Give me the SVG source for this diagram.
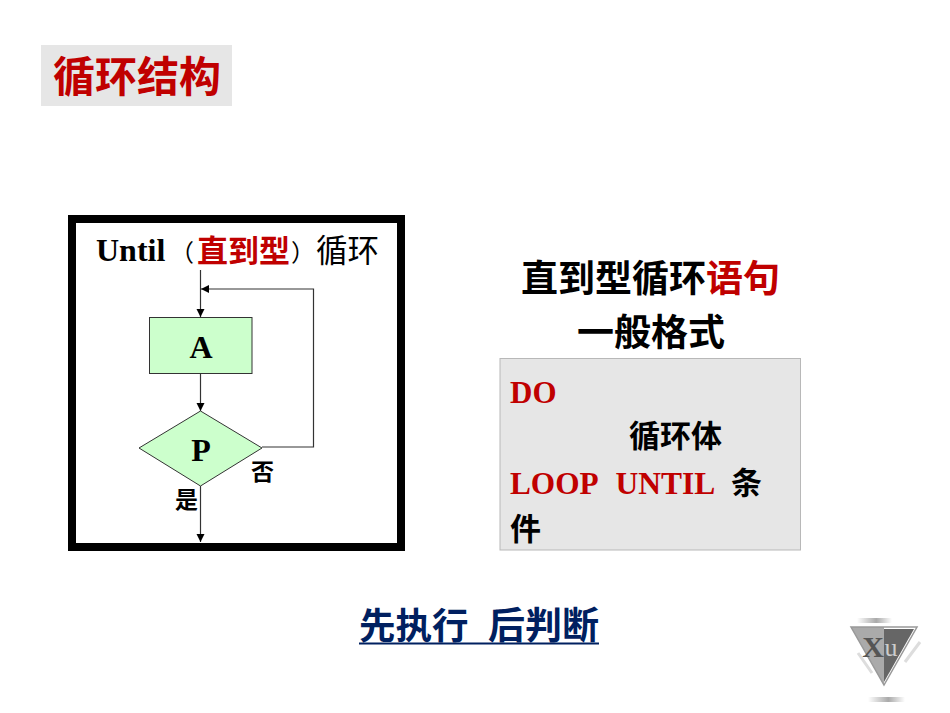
<svg xmlns="http://www.w3.org/2000/svg" width="950" height="713" viewBox="0 0 950 713">
<style>
.cjk{font-family:"Noto Sans CJK SC","Liberation Sans",sans-serif;font-weight:700}
.reg{font-family:"Noto Sans CJK SC","Liberation Sans",sans-serif;font-weight:400}
.ser{font-family:"Liberation Serif","Noto Sans CJK SC",serif;font-weight:700}
.red{fill:#c00000}
.blk{fill:#000}
.ln{fill:none;stroke:#333;stroke-width:1.2}
.nd{fill:#ccffcc;stroke:#333;stroke-width:1}
.streak{fill:none;stroke:#ddd;stroke-width:3}
</style>
<defs>
<marker id="ah" markerUnits="userSpaceOnUse" markerWidth="9" markerHeight="10" refX="8" refY="4" orient="auto"><path d="M0 0L8 4L0 8Z" fill="#000"/></marker>
<linearGradient id="gh" x1="0" x2="1" y1="0" y2="0"><stop offset="0" stop-color="#fff"/><stop offset=".55" stop-color="#aaa"/><stop offset="1" stop-color="#fff"/></linearGradient>
</defs>
<rect width="950" height="713" fill="#fff"/>
<g id="title"><rect x="41" y="45" width="191" height="61" fill="#e6e6e6"/><text x="53" y="92" class="cjk red" font-size="42">循环结构</text></g>
<rect id="frame" x="72" y="219" width="329" height="328" fill="#fff" stroke="#000" stroke-width="8"/>
<g id="heading"><text x="96" y="261" class="ser blk" font-size="32">Until</text>
<text x="170" y="261" class="reg blk" font-size="24">（</text>
<text x="197" y="262" class="cjk red" font-size="31">直到型</text>
<text x="291" y="261" class="reg blk" font-size="24">）</text>
<text x="316" y="262" class="reg blk" font-size="31.500">循环</text></g>
<g id="connectors">
<path class="ln" d="M200.500 270V317" marker-end="url(#ah)"/>
<path class="ln" d="M200.500 373V411" marker-end="url(#ah)"/>
<path class="ln" d="M200.500 486V542" marker-end="url(#ah)"/>
<path class="ln" d="M262 447H313.500V289H201" marker-end="url(#ah)"/>
</g>
<g id="node-a"><rect class="nd" x="149.500" y="317.500" width="102.500" height="56"/><text x="201" y="358" text-anchor="middle" class="ser blk" font-size="32">A</text></g>
<g id="node-p"><path class="nd" d="M139 448L200.500 411L262 448L200.500 486Z"/><text x="201" y="461" text-anchor="middle" class="ser blk" font-size="32">P</text></g>
<text id="no" x="251" y="480" class="cjk blk" font-size="23">否</text>
<text id="yes" x="175" y="508" class="cjk blk" font-size="23">是</text>
<g id="subtitle"><text x="521" y="292" class="cjk blk" font-size="37">直到型循环<tspan class="red">语句</tspan></text>
<text x="577" y="346" class="cjk blk" font-size="37">一般格式</text></g>
<g id="code"><rect x="500" y="358.500" width="300.500" height="191.500" fill="#e6e6e6" stroke="#b8b8b8" stroke-width="1"/>
<text x="510" y="403" class="ser red" font-size="31">DO</text>
<text x="629" y="447" class="cjk blk" font-size="31">循环体</text>
<text x="510" y="494" class="ser red" font-size="31.300">LOOP</text>
<text x="615.500" y="494" class="ser red" font-size="31.500">UNTIL</text>
<text x="731" y="494" class="cjk blk" font-size="31">条</text>
<text x="510" y="540" class="cjk blk" font-size="31">件</text></g>
<g id="footer"><text x="359" y="639" class="cjk" fill="#002060" font-size="36.500">先执行</text>
<text x="488" y="639" class="cjk" fill="#002060" font-size="37">后判断</text>
<rect x="359" y="642.500" width="240" height="2" fill="#002060"/></g>
<g id="logo">
<rect x="857" y="618" width="35" height="5" fill="url(#gh)"/>
<rect x="868" y="697" width="37" height="5" fill="url(#gh)"/>
<path class="streak" d="M858 653L872 673M920 642L905 662"/>
<path d="M851 627H884V685Z" fill="#aaa"/>
<path d="M884 629H914L884 682Z" fill="#666"/>
<path d="M851 627H917L884 685Z" fill="none" stroke="#999" stroke-width="1.500"/>
<text x="873" y="657" text-anchor="middle" font-family="Liberation Serif,serif" font-size="30" font-weight="700" fill="#555">X</text>
<text x="891" y="656" text-anchor="middle" font-family="Liberation Serif,serif" font-size="26" fill="#ccc">u</text>
</g>
</svg>
